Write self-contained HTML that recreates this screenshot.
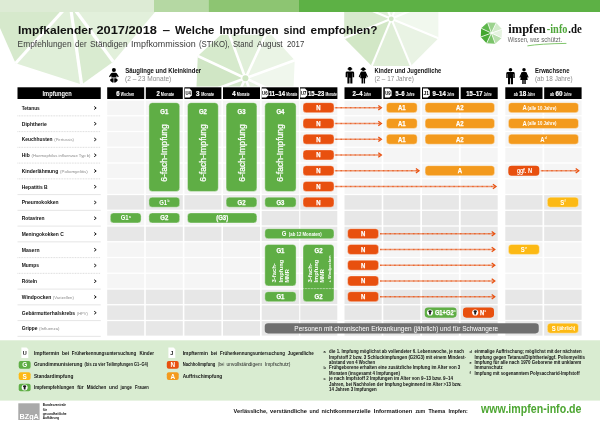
<!DOCTYPE html>
<html><head><meta charset="utf-8"><title>Impfkalender 2017/2018</title>
<style>html,body{margin:0;padding:0;background:#fff}body{width:600px;height:427px;overflow:hidden;font-family:"Liberation Sans",sans-serif}svg{display:block;will-change:transform;transform:translateZ(0)}</style>
</head><body>
<svg width="600" height="427" viewBox="0 0 600 427" font-family="Liberation Sans, sans-serif">
<rect x="0.00" y="0.00" width="600.00" height="427.00" rx="0.00" fill="#fff" />
<polygon points="0.0,0.0 70.0,3.0 15.6,63.3 0.0,28.0" fill="#d6e9cc"/>
<polygon points="70.0,3.0 15.6,63.3 81.6,84.5" fill="#e0efd9"/>
<polygon points="70.0,3.0 81.6,84.5 113.3,61.8" fill="#d9ebd0"/>
<polygon points="70.0,3.0 113.3,61.8 155.0,12.0 155.0,0.0" fill="#e2f0db"/>
<line x1="70.0" y1="3.0" x2="15.6" y2="63.3" stroke="#fff" stroke-width="3.2"/>
<line x1="70.0" y1="3.0" x2="81.6" y2="84.5" stroke="#fff" stroke-width="3.2"/>
<line x1="70.0" y1="3.0" x2="113.3" y2="61.8" stroke="#fff" stroke-width="3.2"/>
<clipPath id="cu2"><rect x="150" y="34.8" width="200" height="80"/></clipPath><g clip-path="url(#cu2)">
<polygon points="245.4,78.2 294.7,60.2 267.6,30.6" fill="#eaf4e5"/>
<polygon points="245.4,78.2 267.6,30.6 227.4,28.9" fill="#e0efd9"/>
<polygon points="245.4,78.2 227.4,28.9 197.8,56.0" fill="#d6eacc"/>
<polygon points="245.4,78.2 197.8,56.0 196.1,96.2" fill="#d0e6c5"/>
<polygon points="245.4,78.2 196.1,96.2 223.2,125.8" fill="#d4e8ca"/>
<polygon points="245.4,78.2 223.2,125.8 263.4,127.5" fill="#dcedd4"/>
<polygon points="245.4,78.2 263.4,127.5 293.0,100.4" fill="#e6f2e0"/>
<polygon points="245.4,78.2 293.0,100.4 294.7,60.2" fill="#f0f7ed"/>
<line x1="245.4" y1="78.2" x2="294.7" y2="60.2" stroke="#fff" stroke-width="2.6"/>
<line x1="245.4" y1="78.2" x2="267.6" y2="30.6" stroke="#fff" stroke-width="2.6"/>
<line x1="245.4" y1="78.2" x2="227.4" y2="28.9" stroke="#fff" stroke-width="2.6"/>
<line x1="245.4" y1="78.2" x2="197.8" y2="56.0" stroke="#fff" stroke-width="2.6"/>
<line x1="245.4" y1="78.2" x2="196.1" y2="96.2" stroke="#fff" stroke-width="2.6"/>
<line x1="245.4" y1="78.2" x2="223.2" y2="125.8" stroke="#fff" stroke-width="2.6"/>
<line x1="245.4" y1="78.2" x2="263.4" y2="127.5" stroke="#fff" stroke-width="2.6"/>
<line x1="245.4" y1="78.2" x2="293.0" y2="100.4" stroke="#fff" stroke-width="2.6"/>
<circle cx="245.4" cy="78.2" r="4.2" fill="#fff"/>
<circle cx="245.4" cy="78.2" r="3.0" fill="#cfe6c3"/>
</g>
<polygon points="391.3,18.8 438.4,38.3 438.4,-0.7" fill="#f1f8ee"/>
<polygon points="391.3,18.8 438.4,-0.7 410.8,-28.3" fill="#f4f9f1"/>
<polygon points="391.3,18.8 410.8,-28.3 371.8,-28.3" fill="#eaf4e5"/>
<polygon points="391.3,18.8 371.8,-28.3 344.2,-0.7" fill="#e0eed8"/>
<polygon points="391.3,18.8 344.2,-0.7 344.2,38.3" fill="#d8eace"/>
<polygon points="391.3,18.8 344.2,38.3 371.8,65.9" fill="#d2e7c6"/>
<polygon points="391.3,18.8 371.8,65.9 410.8,65.9" fill="#dfeed7"/>
<polygon points="391.3,18.8 410.8,65.9 438.4,38.3" fill="#e9f3e4"/>
<line x1="391.3" y1="18.8" x2="438.4" y2="38.3" stroke="#fff" stroke-width="2.1"/>
<line x1="391.3" y1="18.8" x2="438.4" y2="-0.7" stroke="#fff" stroke-width="2.1"/>
<line x1="391.3" y1="18.8" x2="410.8" y2="-28.3" stroke="#fff" stroke-width="2.1"/>
<line x1="391.3" y1="18.8" x2="371.8" y2="-28.3" stroke="#fff" stroke-width="2.1"/>
<line x1="391.3" y1="18.8" x2="344.2" y2="-0.7" stroke="#fff" stroke-width="2.1"/>
<line x1="391.3" y1="18.8" x2="344.2" y2="38.3" stroke="#fff" stroke-width="2.1"/>
<line x1="391.3" y1="18.8" x2="371.8" y2="65.9" stroke="#fff" stroke-width="2.1"/>
<line x1="391.3" y1="18.8" x2="410.8" y2="65.9" stroke="#fff" stroke-width="2.1"/>
<circle cx="391.3" cy="18.8" r="3.6" fill="#fff"/>
<circle cx="391.3" cy="18.8" r="2.4" fill="#cfe6c3"/>
<rect x="0.00" y="0.00" width="154.00" height="12.00" rx="0.00" fill="#ddebd5" />
<rect x="154.00" y="0.00" width="54.40" height="12.00" rx="0.00" fill="#b5d8a3" />
<rect x="208.40" y="0.00" width="90.60" height="12.00" rx="0.00" fill="#8dc572" />
<rect x="299.00" y="0.00" width="301.00" height="12.00" rx="0.00" fill="#5db145" />
<rect x="0.00" y="86.50" width="600.00" height="254.00" rx="0.00" fill="#fff" />
<text x="18.00" y="33.75" font-size="11.70" fill="#111" font-weight="bold" text-anchor="start" textLength="74.60" lengthAdjust="spacingAndGlyphs" >Impfkalender</text>
<text x="96.40" y="33.75" font-size="11.70" fill="#111" font-weight="bold" text-anchor="start" textLength="60.60" lengthAdjust="spacingAndGlyphs" >2017/2018</text>
<text x="162.40" y="33.75" font-size="11.70" fill="#111" font-weight="bold" text-anchor="start" textLength="7.60" lengthAdjust="spacingAndGlyphs" >–</text>
<text x="175.00" y="33.75" font-size="11.70" fill="#111" font-weight="bold" text-anchor="start" textLength="39.40" lengthAdjust="spacingAndGlyphs" >Welche</text>
<text x="219.40" y="33.75" font-size="11.70" fill="#111" font-weight="bold" text-anchor="start" textLength="59.20" lengthAdjust="spacingAndGlyphs" >Impfungen</text>
<text x="283.60" y="33.75" font-size="11.70" fill="#111" font-weight="bold" text-anchor="start" textLength="22.00" lengthAdjust="spacingAndGlyphs" >sind</text>
<text x="310.60" y="33.75" font-size="11.70" fill="#111" font-weight="bold" text-anchor="start" textLength="66.90" lengthAdjust="spacingAndGlyphs" >empfohlen?</text>
<text x="17.60" y="47.00" font-size="9.50" fill="#3a3a3a" font-weight="normal" text-anchor="start" textLength="54.00" lengthAdjust="spacingAndGlyphs" >Empfehlungen</text>
<text x="75.00" y="47.00" font-size="9.50" fill="#3a3a3a" font-weight="normal" text-anchor="start" textLength="11.60" lengthAdjust="spacingAndGlyphs" >der</text>
<text x="90.00" y="47.00" font-size="9.50" fill="#3a3a3a" font-weight="normal" text-anchor="start" textLength="37.60" lengthAdjust="spacingAndGlyphs" >Ständigen</text>
<text x="131.00" y="47.00" font-size="9.50" fill="#3a3a3a" font-weight="normal" text-anchor="start" textLength="64.60" lengthAdjust="spacingAndGlyphs" >Impfkommission</text>
<text x="199.00" y="47.00" font-size="9.50" fill="#3a3a3a" font-weight="normal" text-anchor="start" textLength="30.80" lengthAdjust="spacingAndGlyphs" >(STIKO),</text>
<text x="233.00" y="47.00" font-size="9.50" fill="#3a3a3a" font-weight="normal" text-anchor="start" textLength="20.00" lengthAdjust="spacingAndGlyphs" >Stand</text>
<text x="257.00" y="47.00" font-size="9.50" fill="#3a3a3a" font-weight="normal" text-anchor="start" textLength="25.60" lengthAdjust="spacingAndGlyphs" >August</text>
<text x="287.00" y="47.00" font-size="9.50" fill="#3a3a3a" font-weight="normal" text-anchor="start" textLength="17.20" lengthAdjust="spacingAndGlyphs" >2017</text>
<rect x="107.20" y="100.65" width="37.00" height="14.45" rx="0.00" fill="#f5f5f5" />
<rect x="145.80" y="100.65" width="37.00" height="14.45" rx="0.00" fill="#f5f5f5" />
<rect x="184.40" y="100.65" width="37.00" height="14.45" rx="0.00" fill="#f5f5f5" />
<rect x="223.00" y="100.65" width="37.00" height="14.45" rx="0.00" fill="#f5f5f5" />
<rect x="261.70" y="100.65" width="37.50" height="14.45" rx="0.00" fill="#f5f5f5" />
<rect x="300.30" y="100.65" width="37.00" height="14.45" rx="0.00" fill="#f5f5f5" />
<rect x="344.50" y="100.65" width="37.20" height="14.45" rx="0.00" fill="#f5f5f5" />
<rect x="383.30" y="100.65" width="37.00" height="14.45" rx="0.00" fill="#f5f5f5" />
<rect x="422.00" y="100.65" width="36.90" height="14.45" rx="0.00" fill="#f5f5f5" />
<rect x="460.70" y="100.65" width="37.00" height="14.45" rx="0.00" fill="#f5f5f5" />
<rect x="505.30" y="100.65" width="37.20" height="14.45" rx="0.00" fill="#f5f5f5" />
<rect x="544.20" y="100.65" width="37.40" height="14.45" rx="0.00" fill="#f5f5f5" />
<rect x="107.20" y="116.40" width="37.00" height="14.45" rx="0.00" fill="#f5f5f5" />
<rect x="145.80" y="116.40" width="37.00" height="14.45" rx="0.00" fill="#f5f5f5" />
<rect x="184.40" y="116.40" width="37.00" height="14.45" rx="0.00" fill="#f5f5f5" />
<rect x="223.00" y="116.40" width="37.00" height="14.45" rx="0.00" fill="#f5f5f5" />
<rect x="261.70" y="116.40" width="37.50" height="14.45" rx="0.00" fill="#f5f5f5" />
<rect x="300.30" y="116.40" width="37.00" height="14.45" rx="0.00" fill="#f5f5f5" />
<rect x="344.50" y="116.40" width="37.20" height="14.45" rx="0.00" fill="#f5f5f5" />
<rect x="383.30" y="116.40" width="37.00" height="14.45" rx="0.00" fill="#f5f5f5" />
<rect x="422.00" y="116.40" width="36.90" height="14.45" rx="0.00" fill="#f5f5f5" />
<rect x="460.70" y="116.40" width="37.00" height="14.45" rx="0.00" fill="#f5f5f5" />
<rect x="505.30" y="116.40" width="37.20" height="14.45" rx="0.00" fill="#f5f5f5" />
<rect x="544.20" y="116.40" width="37.40" height="14.45" rx="0.00" fill="#f5f5f5" />
<rect x="107.20" y="132.15" width="37.00" height="14.45" rx="0.00" fill="#f5f5f5" />
<rect x="145.80" y="132.15" width="37.00" height="14.45" rx="0.00" fill="#f5f5f5" />
<rect x="184.40" y="132.15" width="37.00" height="14.45" rx="0.00" fill="#f5f5f5" />
<rect x="223.00" y="132.15" width="37.00" height="14.45" rx="0.00" fill="#f5f5f5" />
<rect x="261.70" y="132.15" width="37.50" height="14.45" rx="0.00" fill="#f5f5f5" />
<rect x="300.30" y="132.15" width="37.00" height="14.45" rx="0.00" fill="#f5f5f5" />
<rect x="344.50" y="132.15" width="37.20" height="14.45" rx="0.00" fill="#f5f5f5" />
<rect x="383.30" y="132.15" width="37.00" height="14.45" rx="0.00" fill="#f5f5f5" />
<rect x="422.00" y="132.15" width="36.90" height="14.45" rx="0.00" fill="#f5f5f5" />
<rect x="460.70" y="132.15" width="37.00" height="14.45" rx="0.00" fill="#f5f5f5" />
<rect x="505.30" y="132.15" width="37.20" height="14.45" rx="0.00" fill="#f5f5f5" />
<rect x="544.20" y="132.15" width="37.40" height="14.45" rx="0.00" fill="#f5f5f5" />
<rect x="107.20" y="147.90" width="37.00" height="14.45" rx="0.00" fill="#f5f5f5" />
<rect x="145.80" y="147.90" width="37.00" height="14.45" rx="0.00" fill="#f5f5f5" />
<rect x="184.40" y="147.90" width="37.00" height="14.45" rx="0.00" fill="#f5f5f5" />
<rect x="223.00" y="147.90" width="37.00" height="14.45" rx="0.00" fill="#f5f5f5" />
<rect x="261.70" y="147.90" width="37.50" height="14.45" rx="0.00" fill="#f5f5f5" />
<rect x="300.30" y="147.90" width="37.00" height="14.45" rx="0.00" fill="#f5f5f5" />
<rect x="344.50" y="147.90" width="37.20" height="14.45" rx="0.00" fill="#f5f5f5" />
<rect x="383.30" y="147.90" width="37.00" height="14.45" rx="0.00" fill="#f5f5f5" />
<rect x="422.00" y="147.90" width="36.90" height="14.45" rx="0.00" fill="#f5f5f5" />
<rect x="460.70" y="147.90" width="37.00" height="14.45" rx="0.00" fill="#f5f5f5" />
<rect x="505.30" y="147.90" width="37.20" height="14.45" rx="0.00" fill="#f5f5f5" />
<rect x="544.20" y="147.90" width="37.40" height="14.45" rx="0.00" fill="#f5f5f5" />
<rect x="107.20" y="163.65" width="37.00" height="14.45" rx="0.00" fill="#f5f5f5" />
<rect x="145.80" y="163.65" width="37.00" height="14.45" rx="0.00" fill="#f5f5f5" />
<rect x="184.40" y="163.65" width="37.00" height="14.45" rx="0.00" fill="#f5f5f5" />
<rect x="223.00" y="163.65" width="37.00" height="14.45" rx="0.00" fill="#f5f5f5" />
<rect x="261.70" y="163.65" width="37.50" height="14.45" rx="0.00" fill="#f5f5f5" />
<rect x="300.30" y="163.65" width="37.00" height="14.45" rx="0.00" fill="#f5f5f5" />
<rect x="344.50" y="163.65" width="37.20" height="14.45" rx="0.00" fill="#f5f5f5" />
<rect x="383.30" y="163.65" width="37.00" height="14.45" rx="0.00" fill="#f5f5f5" />
<rect x="422.00" y="163.65" width="36.90" height="14.45" rx="0.00" fill="#f5f5f5" />
<rect x="460.70" y="163.65" width="37.00" height="14.45" rx="0.00" fill="#f5f5f5" />
<rect x="505.30" y="163.65" width="37.20" height="14.45" rx="0.00" fill="#f5f5f5" />
<rect x="544.20" y="163.65" width="37.40" height="14.45" rx="0.00" fill="#f5f5f5" />
<rect x="107.20" y="179.40" width="37.00" height="14.45" rx="0.00" fill="#f5f5f5" />
<rect x="145.80" y="179.40" width="37.00" height="14.45" rx="0.00" fill="#f5f5f5" />
<rect x="184.40" y="179.40" width="37.00" height="14.45" rx="0.00" fill="#f5f5f5" />
<rect x="223.00" y="179.40" width="37.00" height="14.45" rx="0.00" fill="#f5f5f5" />
<rect x="261.70" y="179.40" width="37.50" height="14.45" rx="0.00" fill="#f5f5f5" />
<rect x="300.30" y="179.40" width="37.00" height="14.45" rx="0.00" fill="#f5f5f5" />
<rect x="344.50" y="179.40" width="37.20" height="14.45" rx="0.00" fill="#f5f5f5" />
<rect x="383.30" y="179.40" width="37.00" height="14.45" rx="0.00" fill="#f5f5f5" />
<rect x="422.00" y="179.40" width="36.90" height="14.45" rx="0.00" fill="#f5f5f5" />
<rect x="460.70" y="179.40" width="37.00" height="14.45" rx="0.00" fill="#f5f5f5" />
<rect x="505.30" y="179.40" width="37.20" height="14.45" rx="0.00" fill="#f5f5f5" />
<rect x="544.20" y="179.40" width="37.40" height="14.45" rx="0.00" fill="#f5f5f5" />
<rect x="107.20" y="195.15" width="37.00" height="14.45" rx="0.00" fill="#e7e7e7" />
<rect x="145.80" y="195.15" width="37.00" height="14.45" rx="0.00" fill="#e7e7e7" />
<rect x="184.40" y="195.15" width="37.00" height="14.45" rx="0.00" fill="#e7e7e7" />
<rect x="223.00" y="195.15" width="37.00" height="14.45" rx="0.00" fill="#e7e7e7" />
<rect x="261.70" y="195.15" width="37.50" height="14.45" rx="0.00" fill="#e7e7e7" />
<rect x="300.30" y="195.15" width="37.00" height="14.45" rx="0.00" fill="#e7e7e7" />
<rect x="344.50" y="195.15" width="37.20" height="14.45" rx="0.00" fill="#e7e7e7" />
<rect x="383.30" y="195.15" width="37.00" height="14.45" rx="0.00" fill="#e7e7e7" />
<rect x="422.00" y="195.15" width="36.90" height="14.45" rx="0.00" fill="#e7e7e7" />
<rect x="460.70" y="195.15" width="37.00" height="14.45" rx="0.00" fill="#e7e7e7" />
<rect x="505.30" y="195.15" width="37.20" height="14.45" rx="0.00" fill="#e7e7e7" />
<rect x="544.20" y="195.15" width="37.40" height="14.45" rx="0.00" fill="#e7e7e7" />
<rect x="107.20" y="210.90" width="37.00" height="14.45" rx="0.00" fill="#f5f5f5" />
<rect x="145.80" y="210.90" width="37.00" height="14.45" rx="0.00" fill="#f5f5f5" />
<rect x="184.40" y="210.90" width="37.00" height="14.45" rx="0.00" fill="#f5f5f5" />
<rect x="223.00" y="210.90" width="37.00" height="14.45" rx="0.00" fill="#f5f5f5" />
<rect x="261.70" y="210.90" width="37.50" height="14.45" rx="0.00" fill="#e7e7e7" />
<rect x="300.30" y="210.90" width="37.00" height="14.45" rx="0.00" fill="#e7e7e7" />
<rect x="344.50" y="210.90" width="37.20" height="14.45" rx="0.00" fill="#e7e7e7" />
<rect x="383.30" y="210.90" width="37.00" height="14.45" rx="0.00" fill="#e7e7e7" />
<rect x="422.00" y="210.90" width="36.90" height="14.45" rx="0.00" fill="#e7e7e7" />
<rect x="460.70" y="210.90" width="37.00" height="14.45" rx="0.00" fill="#e7e7e7" />
<rect x="505.30" y="210.90" width="37.20" height="14.45" rx="0.00" fill="#e7e7e7" />
<rect x="544.20" y="210.90" width="37.40" height="14.45" rx="0.00" fill="#e7e7e7" />
<rect x="107.20" y="226.65" width="37.00" height="14.45" rx="0.00" fill="#e7e7e7" />
<rect x="145.80" y="226.65" width="37.00" height="14.45" rx="0.00" fill="#e7e7e7" />
<rect x="184.40" y="226.65" width="37.00" height="14.45" rx="0.00" fill="#e7e7e7" />
<rect x="223.00" y="226.65" width="37.00" height="14.45" rx="0.00" fill="#e7e7e7" />
<rect x="261.70" y="226.65" width="37.50" height="14.45" rx="0.00" fill="#e7e7e7" />
<rect x="300.30" y="226.65" width="37.00" height="14.45" rx="0.00" fill="#e7e7e7" />
<rect x="344.50" y="226.65" width="37.20" height="14.45" rx="0.00" fill="#e7e7e7" />
<rect x="383.30" y="226.65" width="37.00" height="14.45" rx="0.00" fill="#e7e7e7" />
<rect x="422.00" y="226.65" width="36.90" height="14.45" rx="0.00" fill="#e7e7e7" />
<rect x="460.70" y="226.65" width="37.00" height="14.45" rx="0.00" fill="#e7e7e7" />
<rect x="505.30" y="226.65" width="37.20" height="14.45" rx="0.00" fill="#e7e7e7" />
<rect x="544.20" y="226.65" width="37.40" height="14.45" rx="0.00" fill="#e7e7e7" />
<rect x="107.20" y="242.40" width="37.00" height="14.45" rx="0.00" fill="#f5f5f5" />
<rect x="145.80" y="242.40" width="37.00" height="14.45" rx="0.00" fill="#f5f5f5" />
<rect x="184.40" y="242.40" width="37.00" height="14.45" rx="0.00" fill="#f5f5f5" />
<rect x="223.00" y="242.40" width="37.00" height="14.45" rx="0.00" fill="#f5f5f5" />
<rect x="261.70" y="242.40" width="37.50" height="14.45" rx="0.00" fill="#f5f5f5" />
<rect x="300.30" y="242.40" width="37.00" height="14.45" rx="0.00" fill="#f5f5f5" />
<rect x="344.50" y="242.40" width="37.20" height="14.45" rx="0.00" fill="#f5f5f5" />
<rect x="383.30" y="242.40" width="37.00" height="14.45" rx="0.00" fill="#f5f5f5" />
<rect x="422.00" y="242.40" width="36.90" height="14.45" rx="0.00" fill="#f5f5f5" />
<rect x="460.70" y="242.40" width="37.00" height="14.45" rx="0.00" fill="#f5f5f5" />
<rect x="505.30" y="242.40" width="37.20" height="14.45" rx="0.00" fill="#f5f5f5" />
<rect x="544.20" y="242.40" width="37.40" height="14.45" rx="0.00" fill="#f5f5f5" />
<rect x="107.20" y="258.15" width="37.00" height="14.45" rx="0.00" fill="#f5f5f5" />
<rect x="145.80" y="258.15" width="37.00" height="14.45" rx="0.00" fill="#f5f5f5" />
<rect x="184.40" y="258.15" width="37.00" height="14.45" rx="0.00" fill="#f5f5f5" />
<rect x="223.00" y="258.15" width="37.00" height="14.45" rx="0.00" fill="#f5f5f5" />
<rect x="261.70" y="258.15" width="37.50" height="14.45" rx="0.00" fill="#f5f5f5" />
<rect x="300.30" y="258.15" width="37.00" height="14.45" rx="0.00" fill="#f5f5f5" />
<rect x="344.50" y="258.15" width="37.20" height="14.45" rx="0.00" fill="#f5f5f5" />
<rect x="383.30" y="258.15" width="37.00" height="14.45" rx="0.00" fill="#f5f5f5" />
<rect x="422.00" y="258.15" width="36.90" height="14.45" rx="0.00" fill="#f5f5f5" />
<rect x="460.70" y="258.15" width="37.00" height="14.45" rx="0.00" fill="#f5f5f5" />
<rect x="505.30" y="258.15" width="37.20" height="14.45" rx="0.00" fill="#f5f5f5" />
<rect x="544.20" y="258.15" width="37.40" height="14.45" rx="0.00" fill="#f5f5f5" />
<rect x="107.20" y="273.90" width="37.00" height="14.45" rx="0.00" fill="#f5f5f5" />
<rect x="145.80" y="273.90" width="37.00" height="14.45" rx="0.00" fill="#f5f5f5" />
<rect x="184.40" y="273.90" width="37.00" height="14.45" rx="0.00" fill="#f5f5f5" />
<rect x="223.00" y="273.90" width="37.00" height="14.45" rx="0.00" fill="#f5f5f5" />
<rect x="261.70" y="273.90" width="37.50" height="14.45" rx="0.00" fill="#f5f5f5" />
<rect x="300.30" y="273.90" width="37.00" height="14.45" rx="0.00" fill="#f5f5f5" />
<rect x="344.50" y="273.90" width="37.20" height="14.45" rx="0.00" fill="#f5f5f5" />
<rect x="383.30" y="273.90" width="37.00" height="14.45" rx="0.00" fill="#f5f5f5" />
<rect x="422.00" y="273.90" width="36.90" height="14.45" rx="0.00" fill="#f5f5f5" />
<rect x="460.70" y="273.90" width="37.00" height="14.45" rx="0.00" fill="#f5f5f5" />
<rect x="505.30" y="273.90" width="37.20" height="14.45" rx="0.00" fill="#f5f5f5" />
<rect x="544.20" y="273.90" width="37.40" height="14.45" rx="0.00" fill="#f5f5f5" />
<rect x="107.20" y="289.65" width="37.00" height="14.45" rx="0.00" fill="#e7e7e7" />
<rect x="145.80" y="289.65" width="37.00" height="14.45" rx="0.00" fill="#e7e7e7" />
<rect x="184.40" y="289.65" width="37.00" height="14.45" rx="0.00" fill="#e7e7e7" />
<rect x="223.00" y="289.65" width="37.00" height="14.45" rx="0.00" fill="#e7e7e7" />
<rect x="261.70" y="289.65" width="37.50" height="14.45" rx="0.00" fill="#e7e7e7" />
<rect x="300.30" y="289.65" width="37.00" height="14.45" rx="0.00" fill="#e7e7e7" />
<rect x="344.50" y="289.65" width="37.20" height="14.45" rx="0.00" fill="#e7e7e7" />
<rect x="383.30" y="289.65" width="37.00" height="14.45" rx="0.00" fill="#e7e7e7" />
<rect x="422.00" y="289.65" width="36.90" height="14.45" rx="0.00" fill="#e7e7e7" />
<rect x="460.70" y="289.65" width="37.00" height="14.45" rx="0.00" fill="#e7e7e7" />
<rect x="505.30" y="289.65" width="37.20" height="14.45" rx="0.00" fill="#e7e7e7" />
<rect x="544.20" y="289.65" width="37.40" height="14.45" rx="0.00" fill="#e7e7e7" />
<rect x="107.20" y="305.40" width="37.00" height="14.45" rx="0.00" fill="#e7e7e7" />
<rect x="145.80" y="305.40" width="37.00" height="14.45" rx="0.00" fill="#e7e7e7" />
<rect x="184.40" y="305.40" width="37.00" height="14.45" rx="0.00" fill="#e7e7e7" />
<rect x="223.00" y="305.40" width="37.00" height="14.45" rx="0.00" fill="#e7e7e7" />
<rect x="261.70" y="305.40" width="37.50" height="14.45" rx="0.00" fill="#e7e7e7" />
<rect x="300.30" y="305.40" width="37.00" height="14.45" rx="0.00" fill="#e7e7e7" />
<rect x="344.50" y="305.40" width="37.20" height="14.45" rx="0.00" fill="#e7e7e7" />
<rect x="383.30" y="305.40" width="37.00" height="14.45" rx="0.00" fill="#e7e7e7" />
<rect x="422.00" y="305.40" width="36.90" height="14.45" rx="0.00" fill="#e7e7e7" />
<rect x="460.70" y="305.40" width="37.00" height="14.45" rx="0.00" fill="#e7e7e7" />
<rect x="505.30" y="305.40" width="37.20" height="14.45" rx="0.00" fill="#e7e7e7" />
<rect x="544.20" y="305.40" width="37.40" height="14.45" rx="0.00" fill="#e7e7e7" />
<rect x="107.20" y="321.15" width="37.00" height="14.45" rx="0.00" fill="#e7e7e7" />
<rect x="145.80" y="321.15" width="37.00" height="14.45" rx="0.00" fill="#e7e7e7" />
<rect x="184.40" y="321.15" width="37.00" height="14.45" rx="0.00" fill="#e7e7e7" />
<rect x="223.00" y="321.15" width="37.00" height="14.45" rx="0.00" fill="#e7e7e7" />
<rect x="261.70" y="321.15" width="37.50" height="14.45" rx="0.00" fill="#e7e7e7" />
<rect x="300.30" y="321.15" width="37.00" height="14.45" rx="0.00" fill="#e7e7e7" />
<rect x="344.50" y="321.15" width="37.20" height="14.45" rx="0.00" fill="#e7e7e7" />
<rect x="383.30" y="321.15" width="37.00" height="14.45" rx="0.00" fill="#e7e7e7" />
<rect x="422.00" y="321.15" width="36.90" height="14.45" rx="0.00" fill="#e7e7e7" />
<rect x="460.70" y="321.15" width="37.00" height="14.45" rx="0.00" fill="#e7e7e7" />
<rect x="505.30" y="321.15" width="37.20" height="14.45" rx="0.00" fill="#e7e7e7" />
<rect x="544.20" y="321.15" width="37.40" height="14.45" rx="0.00" fill="#e7e7e7" />
<rect x="17.50" y="87.30" width="83.25" height="11.70" rx="0.00" fill="#000" />
<rect x="107.20" y="87.30" width="37.00" height="11.70" rx="0.00" fill="#000" />
<rect x="145.80" y="87.30" width="37.00" height="11.70" rx="0.00" fill="#000" />
<rect x="184.40" y="87.30" width="37.00" height="11.70" rx="0.00" fill="#000" />
<rect x="223.00" y="87.30" width="37.00" height="11.70" rx="0.00" fill="#000" />
<rect x="261.70" y="87.30" width="37.00" height="11.70" rx="0.00" fill="#000" />
<rect x="300.00" y="87.30" width="37.40" height="11.70" rx="0.00" fill="#000" />
<rect x="344.50" y="87.30" width="37.20" height="11.70" rx="0.00" fill="#000" />
<rect x="383.30" y="87.30" width="37.00" height="11.70" rx="0.00" fill="#000" />
<rect x="422.00" y="87.30" width="36.90" height="11.70" rx="0.00" fill="#000" />
<rect x="460.70" y="87.30" width="37.00" height="11.70" rx="0.00" fill="#000" />
<rect x="505.30" y="87.30" width="37.20" height="11.70" rx="0.00" fill="#000" />
<rect x="544.20" y="87.30" width="37.40" height="11.70" rx="0.00" fill="#000" />
<text x="42.50" y="95.60" font-size="6.50" fill="#fff" font-weight="bold" text-anchor="start" textLength="29.20" lengthAdjust="spacingAndGlyphs" >Impfungen</text>
<text x="116.20" y="95.60" font-size="6.40" fill="#fff" font-weight="bold" text-anchor="start" textLength="3.40" lengthAdjust="spacingAndGlyphs" stroke="#fff" stroke-width="0.2">6</text>
<text x="120.80" y="95.50" font-size="4.50" fill="#fff" font-weight="bold" text-anchor="start" textLength="13.40" lengthAdjust="spacingAndGlyphs" >Wochen</text>
<text x="156.50" y="95.60" font-size="6.40" fill="#fff" font-weight="bold" text-anchor="start" textLength="3.30" lengthAdjust="spacingAndGlyphs" stroke="#fff" stroke-width="0.2">2</text>
<text x="160.80" y="95.50" font-size="4.50" fill="#fff" font-weight="bold" text-anchor="start" textLength="13.40" lengthAdjust="spacingAndGlyphs" >Monate</text>
<text x="196.00" y="95.60" font-size="6.40" fill="#fff" font-weight="bold" text-anchor="start" textLength="3.50" lengthAdjust="spacingAndGlyphs" stroke="#fff" stroke-width="0.2">3</text>
<text x="201.20" y="95.50" font-size="4.50" fill="#fff" font-weight="bold" text-anchor="start" textLength="13.00" lengthAdjust="spacingAndGlyphs" >Monate</text>
<text x="232.30" y="95.60" font-size="6.40" fill="#fff" font-weight="bold" text-anchor="start" textLength="3.40" lengthAdjust="spacingAndGlyphs" stroke="#fff" stroke-width="0.2">4</text>
<text x="236.70" y="95.50" font-size="4.50" fill="#fff" font-weight="bold" text-anchor="start" textLength="13.00" lengthAdjust="spacingAndGlyphs" >Monate</text>
<text x="268.90" y="95.60" font-size="6.40" fill="#fff" font-weight="bold" text-anchor="start" textLength="16.10" lengthAdjust="spacingAndGlyphs" stroke="#fff" stroke-width="0.2">11–14</text>
<text x="286.20" y="95.50" font-size="4.50" fill="#fff" font-weight="bold" text-anchor="start" textLength="11.20" lengthAdjust="spacingAndGlyphs" >Monate</text>
<text x="308.00" y="95.60" font-size="6.40" fill="#fff" font-weight="bold" text-anchor="start" textLength="16.20" lengthAdjust="spacingAndGlyphs" stroke="#fff" stroke-width="0.2">15–23</text>
<text x="325.40" y="95.50" font-size="4.50" fill="#fff" font-weight="bold" text-anchor="start" textLength="11.40" lengthAdjust="spacingAndGlyphs" >Monate</text>
<text x="352.50" y="95.60" font-size="6.40" fill="#fff" font-weight="bold" text-anchor="start" textLength="10.00" lengthAdjust="spacingAndGlyphs" stroke="#fff" stroke-width="0.2">2–4</text>
<text x="363.75" y="95.50" font-size="4.50" fill="#fff" font-weight="bold" text-anchor="start" textLength="7.25" lengthAdjust="spacingAndGlyphs" >Jahre</text>
<text x="395.50" y="95.60" font-size="6.40" fill="#fff" font-weight="bold" text-anchor="start" textLength="9.10" lengthAdjust="spacingAndGlyphs" stroke="#fff" stroke-width="0.2">5–6</text>
<text x="406.20" y="95.50" font-size="4.50" fill="#fff" font-weight="bold" text-anchor="start" textLength="8.40" lengthAdjust="spacingAndGlyphs" >Jahre</text>
<text x="432.50" y="95.60" font-size="6.40" fill="#fff" font-weight="bold" text-anchor="start" textLength="13.25" lengthAdjust="spacingAndGlyphs" stroke="#fff" stroke-width="0.2">9–14</text>
<text x="447.00" y="95.50" font-size="4.50" fill="#fff" font-weight="bold" text-anchor="start" textLength="7.20" lengthAdjust="spacingAndGlyphs" >Jahre</text>
<text x="466.25" y="95.60" font-size="6.40" fill="#fff" font-weight="bold" text-anchor="start" textLength="16.25" lengthAdjust="spacingAndGlyphs" stroke="#fff" stroke-width="0.2">15–17</text>
<text x="483.75" y="95.50" font-size="4.50" fill="#fff" font-weight="bold" text-anchor="start" textLength="7.75" lengthAdjust="spacingAndGlyphs" >Jahre</text>
<text x="513.75" y="95.50" font-size="4.50" fill="#fff" font-weight="bold" text-anchor="start" textLength="4.25" lengthAdjust="spacingAndGlyphs" >ab</text>
<text x="519.25" y="95.60" font-size="6.40" fill="#fff" font-weight="bold" text-anchor="start" textLength="7.00" lengthAdjust="spacingAndGlyphs" stroke="#fff" stroke-width="0.2">18</text>
<text x="527.50" y="95.50" font-size="4.50" fill="#fff" font-weight="bold" text-anchor="start" textLength="7.50" lengthAdjust="spacingAndGlyphs" >Jahre</text>
<text x="550.00" y="95.50" font-size="4.50" fill="#fff" font-weight="bold" text-anchor="start" textLength="4.25" lengthAdjust="spacingAndGlyphs" >ab</text>
<text x="555.50" y="95.60" font-size="6.40" fill="#fff" font-weight="bold" text-anchor="start" textLength="7.00" lengthAdjust="spacingAndGlyphs" stroke="#fff" stroke-width="0.2">60</text>
<text x="563.75" y="95.50" font-size="4.50" fill="#fff" font-weight="bold" text-anchor="start" textLength="7.75" lengthAdjust="spacingAndGlyphs" >Jahre</text>
<path d="M185.00 88.50 h4.6 l2.2 2.2 v4.6 l-2.2 2.2 h-4.6 z" fill="#fff"/>
<text x="188.20" y="94.70" font-size="4.80" fill="#000" font-weight="bold" text-anchor="middle" textLength="5.4" lengthAdjust="spacingAndGlyphs">U4</text>
<path d="M261.60 88.50 h4.6 l2.2 2.2 v4.6 l-2.2 2.2 h-4.6 z" fill="#fff"/>
<text x="264.80" y="94.70" font-size="4.80" fill="#000" font-weight="bold" text-anchor="middle" textLength="5.4" lengthAdjust="spacingAndGlyphs">U6</text>
<path d="M300.40 88.50 h4.6 l2.2 2.2 v4.6 l-2.2 2.2 h-4.6 z" fill="#fff"/>
<text x="303.60" y="94.70" font-size="4.80" fill="#000" font-weight="bold" text-anchor="middle" textLength="5.4" lengthAdjust="spacingAndGlyphs">U7</text>
<path d="M384.80 88.50 h4.6 l2.2 2.2 v4.6 l-2.2 2.2 h-4.6 z" fill="#fff"/>
<text x="388.00" y="94.70" font-size="4.80" fill="#000" font-weight="bold" text-anchor="middle" textLength="5.4" lengthAdjust="spacingAndGlyphs">U9</text>
<path d="M423.00 88.50 h4.6 l2.2 2.2 v4.6 l-2.2 2.2 h-4.6 z" fill="#fff"/>
<text x="426.20" y="94.70" font-size="4.80" fill="#000" font-weight="bold" text-anchor="middle" textLength="5.4" lengthAdjust="spacingAndGlyphs">J1</text>
<text x="125.20" y="73.30" font-size="6.30" fill="#111" font-weight="bold" text-anchor="start" textLength="75.90" lengthAdjust="spacingAndGlyphs" >Säuglinge und Kleinkinder</text>
<text x="125.00" y="81.10" font-size="6.30" fill="#8a8a8a" font-weight="normal" text-anchor="start" textLength="46.30" lengthAdjust="spacingAndGlyphs" >(2 – 23 Monate)</text>
<text x="374.50" y="73.20" font-size="6.30" fill="#111" font-weight="bold" text-anchor="start" textLength="66.80" lengthAdjust="spacingAndGlyphs" >Kinder und Jugendliche</text>
<text x="374.50" y="81.10" font-size="6.30" fill="#8a8a8a" font-weight="normal" text-anchor="start" textLength="39.30" lengthAdjust="spacingAndGlyphs" >(2 – 17 Jahre)</text>
<text x="535.00" y="73.20" font-size="6.30" fill="#111" font-weight="bold" text-anchor="start" textLength="34.50" lengthAdjust="spacingAndGlyphs" >Erwachsene</text>
<text x="535.00" y="81.10" font-size="6.30" fill="#8a8a8a" font-weight="normal" text-anchor="start" textLength="37.50" lengthAdjust="spacingAndGlyphs" >(ab 18 Jahre)</text>
<g fill="#000">
<circle cx="113.90" cy="70.10" r="2.0"/>
<path d="M109.00 76.60 L110.90 73.40 Q111.30 72.70 112.30 72.70 L115.50 72.70 Q116.50 72.70 116.90 73.40 L118.80 76.60 L117.90 77.30 L116.50 75.60 L116.50 77.40 L111.30 77.40 L111.30 75.60 L109.90 77.30 L109.00 76.60 z"/>
<path d="M113.60 78.20 h-1.6 q-1.9 0.3 -1.9 1.9 q0 0.9 0.9 1.5 l1.5 1 q1.1 0.4 1.1 -0.8 z"/>
<path d="M114.20 78.20 h1.6 q1.9 0.3 1.9 1.9 q0 0.9 -0.9 1.5 l-1.5 1 q-1.1 0.4 -1.1 -0.8 z"/>
</g>
<g fill="#000">
<circle cx="349.90" cy="69.10" r="1.75"/>
<ellipse cx="349.90" cy="68.90" rx="2.7" ry="0.7"/>
<path d="M348.10 68.70 a1.8 1.6 0 0 1 3.6 0 z"/>
<path d="M347.10 71.40 h5.6 q1.45 0 1.45 1.45 v4.5 h-1.45 v-4 h-0.3 v10.1 h-2.1 v-5.8 h-0.8 v5.8 h-2.1 v-10.1 h-0.3 v4 h-1.45 v-4.5 q0 -1.45 1.45 -1.45 z"/>
</g>
<g fill="#000">
<circle cx="363.30" cy="69.30" r="1.75"/>
<ellipse cx="363.30" cy="69.30" rx="3" ry="0.7"/>
<path d="M361.50 69.10 a1.8 1.7 0 0 1 3.6 0 z"/>
<path d="M361.80 71.60 h3 q0.7 0 0.9 0.7 L366.40 78.20 H360.20 L360.90 72.30 q0.2 -0.7 0.9 -0.7 z"/>
<path d="M361.30 72.30 L359.40 76.60 M365.30 72.30 L367.20 76.60" stroke="#000" stroke-width="1.15" stroke-linecap="round" fill="none"/>
<rect x="361.55" y="78.00" width="1.45" height="5.50"/>
<rect x="363.60" y="78.00" width="1.45" height="5.50"/>
</g>
<g fill="#000">
<circle cx="510.50" cy="69.80" r="1.75"/>
<path d="M507.70 72.10 h5.6 q1.45 0 1.45 1.45 v4.5 h-1.45 v-4 h-0.3 v10.1 h-2.1 v-5.8 h-0.8 v5.8 h-2.1 v-10.1 h-0.3 v4 h-1.45 v-4.5 q0 -1.45 1.45 -1.45 z"/>
</g>
<g fill="#000">
<circle cx="524.00" cy="69.80" r="1.75"/>
<path d="M522.50 72.10 h3 q0.7 0 0.9 0.7 L527.70 79.90 H520.30 L521.60 72.80 q0.2 -0.7 0.9 -0.7 z"/>
<path d="M522.00 72.80 L520.10 77.10 M526.00 72.80 L527.90 77.10" stroke="#000" stroke-width="1.15" stroke-linecap="round" fill="none"/>
<rect x="522.25" y="79.70" width="1.45" height="4.30"/>
<rect x="524.30" y="79.70" width="1.45" height="4.30"/>
</g>
<text x="21.75" y="109.97" font-size="6.10" fill="#111" font-weight="bold" text-anchor="start" textLength="18.00" lengthAdjust="spacingAndGlyphs" >Tetanus</text>
<path d="M94.20 106.47 l2 1.5 l-2 1.5" fill="none" stroke="#1a1a1a" stroke-width="1.0"/>
<text x="21.75" y="125.72" font-size="6.10" fill="#111" font-weight="bold" text-anchor="start" textLength="25.05" lengthAdjust="spacingAndGlyphs" >Diphtherie</text>
<path d="M94.20 122.22 l2 1.5 l-2 1.5" fill="none" stroke="#1a1a1a" stroke-width="1.0"/>
<text x="21.75" y="141.47" font-size="6.10" fill="#111" font-weight="bold" text-anchor="start" textLength="30.75" lengthAdjust="spacingAndGlyphs" >Keuchhusten</text>
<text x="54.30" y="141.38" font-size="4.30" fill="#8a8a8a" font-weight="normal" text-anchor="start" textLength="19.50" lengthAdjust="spacingAndGlyphs" >(Pertussis)</text>
<path d="M94.20 137.97 l2 1.5 l-2 1.5" fill="none" stroke="#1a1a1a" stroke-width="1.0"/>
<text x="21.75" y="157.22" font-size="6.10" fill="#111" font-weight="bold" text-anchor="start" textLength="7.95" lengthAdjust="spacingAndGlyphs" >Hib</text>
<text x="31.50" y="157.12" font-size="4.30" fill="#8a8a8a" font-weight="normal" text-anchor="start" textLength="59.00" lengthAdjust="spacingAndGlyphs" >(Haemophilus influenzae Typ b)</text>
<path d="M94.20 153.72 l2 1.5 l-2 1.5" fill="none" stroke="#1a1a1a" stroke-width="1.0"/>
<text x="21.75" y="172.97" font-size="6.10" fill="#111" font-weight="bold" text-anchor="start" textLength="36.45" lengthAdjust="spacingAndGlyphs" >Kinderlähmung</text>
<text x="60.00" y="172.88" font-size="4.30" fill="#8a8a8a" font-weight="normal" text-anchor="start" textLength="27.75" lengthAdjust="spacingAndGlyphs" >(Poliomyelitis)</text>
<path d="M94.20 169.47 l2 1.5 l-2 1.5" fill="none" stroke="#1a1a1a" stroke-width="1.0"/>
<text x="21.75" y="188.72" font-size="6.10" fill="#111" font-weight="bold" text-anchor="start" textLength="25.95" lengthAdjust="spacingAndGlyphs" >Hepatitis B</text>
<path d="M94.20 185.22 l2 1.5 l-2 1.5" fill="none" stroke="#1a1a1a" stroke-width="1.0"/>
<text x="21.75" y="204.47" font-size="6.10" fill="#111" font-weight="bold" text-anchor="start" textLength="36.75" lengthAdjust="spacingAndGlyphs" >Pneumokokken</text>
<path d="M94.20 200.97 l2 1.5 l-2 1.5" fill="none" stroke="#1a1a1a" stroke-width="1.0"/>
<text x="21.75" y="220.22" font-size="6.10" fill="#111" font-weight="bold" text-anchor="start" textLength="22.75" lengthAdjust="spacingAndGlyphs" >Rotaviren</text>
<path d="M94.20 216.72 l2 1.5 l-2 1.5" fill="none" stroke="#1a1a1a" stroke-width="1.0"/>
<text x="21.75" y="235.97" font-size="6.10" fill="#111" font-weight="bold" text-anchor="start" textLength="42.00" lengthAdjust="spacingAndGlyphs" >Meningokokken C</text>
<path d="M94.20 232.47 l2 1.5 l-2 1.5" fill="none" stroke="#1a1a1a" stroke-width="1.0"/>
<text x="21.75" y="251.72" font-size="6.10" fill="#111" font-weight="bold" text-anchor="start" textLength="17.75" lengthAdjust="spacingAndGlyphs" >Masern</text>
<path d="M94.20 248.22 l2 1.5 l-2 1.5" fill="none" stroke="#1a1a1a" stroke-width="1.0"/>
<text x="21.75" y="267.48" font-size="6.10" fill="#111" font-weight="bold" text-anchor="start" textLength="17.25" lengthAdjust="spacingAndGlyphs" >Mumps</text>
<path d="M94.20 263.98 l2 1.5 l-2 1.5" fill="none" stroke="#1a1a1a" stroke-width="1.0"/>
<text x="21.75" y="283.23" font-size="6.10" fill="#111" font-weight="bold" text-anchor="start" textLength="15.25" lengthAdjust="spacingAndGlyphs" >Röteln</text>
<path d="M94.20 279.73 l2 1.5 l-2 1.5" fill="none" stroke="#1a1a1a" stroke-width="1.0"/>
<text x="21.75" y="298.98" font-size="6.10" fill="#111" font-weight="bold" text-anchor="start" textLength="29.55" lengthAdjust="spacingAndGlyphs" >Windpocken</text>
<text x="52.80" y="298.88" font-size="4.30" fill="#8a8a8a" font-weight="normal" text-anchor="start" textLength="21.00" lengthAdjust="spacingAndGlyphs" >(Varizellen)</text>
<path d="M94.20 295.48 l2 1.5 l-2 1.5" fill="none" stroke="#1a1a1a" stroke-width="1.0"/>
<text x="21.75" y="314.73" font-size="6.10" fill="#111" font-weight="bold" text-anchor="start" textLength="53.25" lengthAdjust="spacingAndGlyphs" >Gebärmutterhalskrebs</text>
<text x="76.80" y="314.62" font-size="4.30" fill="#8a8a8a" font-weight="normal" text-anchor="start" textLength="10.95" lengthAdjust="spacingAndGlyphs" >(HPV)</text>
<path d="M94.20 311.23 l2 1.5 l-2 1.5" fill="none" stroke="#1a1a1a" stroke-width="1.0"/>
<text x="21.75" y="330.48" font-size="6.10" fill="#111" font-weight="bold" text-anchor="start" textLength="15.75" lengthAdjust="spacingAndGlyphs" >Grippe</text>
<text x="39.00" y="330.38" font-size="4.30" fill="#8a8a8a" font-weight="normal" text-anchor="start" textLength="20.50" lengthAdjust="spacingAndGlyphs" >(Influenza)</text>
<line x1="17.5" y1="115.85" x2="100.75" y2="115.85" stroke="#c4c4c4" stroke-width="0.7" stroke-dasharray="0.8 0.8"/>
<line x1="17.5" y1="131.60" x2="100.75" y2="131.60" stroke="#c4c4c4" stroke-width="0.7" stroke-dasharray="0.8 0.8"/>
<line x1="17.5" y1="147.35" x2="100.75" y2="147.35" stroke="#c4c4c4" stroke-width="0.7" stroke-dasharray="0.8 0.8"/>
<line x1="17.5" y1="163.10" x2="100.75" y2="163.10" stroke="#c4c4c4" stroke-width="0.7" stroke-dasharray="0.8 0.8"/>
<line x1="17.5" y1="178.85" x2="100.75" y2="178.85" stroke="#c4c4c4" stroke-width="0.7" stroke-dasharray="0.8 0.8"/>
<line x1="17.5" y1="194.60" x2="100.75" y2="194.60" stroke="#d4d4d4" stroke-width="0.6"/>
<line x1="17.5" y1="210.35" x2="100.75" y2="210.35" stroke="#d4d4d4" stroke-width="0.6"/>
<line x1="17.5" y1="226.10" x2="100.75" y2="226.10" stroke="#d4d4d4" stroke-width="0.6"/>
<line x1="17.5" y1="241.85" x2="100.75" y2="241.85" stroke="#d4d4d4" stroke-width="0.6"/>
<line x1="17.5" y1="257.60" x2="100.75" y2="257.60" stroke="#c4c4c4" stroke-width="0.7" stroke-dasharray="0.8 0.8"/>
<line x1="17.5" y1="273.35" x2="100.75" y2="273.35" stroke="#c4c4c4" stroke-width="0.7" stroke-dasharray="0.8 0.8"/>
<line x1="17.5" y1="289.10" x2="100.75" y2="289.10" stroke="#d4d4d4" stroke-width="0.6"/>
<line x1="17.5" y1="304.85" x2="100.75" y2="304.85" stroke="#d4d4d4" stroke-width="0.6"/>
<line x1="17.5" y1="320.60" x2="100.75" y2="320.60" stroke="#d4d4d4" stroke-width="0.6"/>
<line x1="17.5" y1="336.35" x2="100.75" y2="336.35" stroke="#d4d4d4" stroke-width="0.6"/>
<rect x="148.90" y="102.65" width="30.80" height="88.80" rx="3.50" fill="#5fae45" stroke="#fff" stroke-opacity="0.55" stroke-width="0.7"/>
<text x="160.31" y="114.10" font-size="6.50" fill="#fff" font-weight="bold" text-anchor="start" textLength="7.98" lengthAdjust="spacingAndGlyphs" stroke="#fff" stroke-width="0.25">G1</text>
<text transform="translate(167.30 181.8) rotate(-90)" font-size="9.2" fill="#fff" font-weight="normal" stroke="#fff" stroke-width="0.25" textLength="57.6" lengthAdjust="spacingAndGlyphs">6-fach-Impfung</text>
<rect x="187.50" y="102.65" width="30.80" height="88.80" rx="3.50" fill="#5fae45" stroke="#fff" stroke-opacity="0.55" stroke-width="0.7"/>
<text x="198.91" y="114.10" font-size="6.50" fill="#fff" font-weight="bold" text-anchor="start" textLength="7.98" lengthAdjust="spacingAndGlyphs" stroke="#fff" stroke-width="0.25">G2</text>
<text transform="translate(205.90 181.8) rotate(-90)" font-size="9.2" fill="#fff" font-weight="normal" stroke="#fff" stroke-width="0.25" textLength="57.6" lengthAdjust="spacingAndGlyphs">6-fach-Impfung</text>
<rect x="226.10" y="102.65" width="30.80" height="88.80" rx="3.50" fill="#5fae45" stroke="#fff" stroke-opacity="0.55" stroke-width="0.7"/>
<text x="237.51" y="114.10" font-size="6.50" fill="#fff" font-weight="bold" text-anchor="start" textLength="7.98" lengthAdjust="spacingAndGlyphs" stroke="#fff" stroke-width="0.25">G3</text>
<text transform="translate(244.50 181.8) rotate(-90)" font-size="9.2" fill="#fff" font-weight="normal" stroke="#fff" stroke-width="0.25" textLength="57.6" lengthAdjust="spacingAndGlyphs">6-fach-Impfung</text>
<rect x="264.80" y="102.65" width="31.30" height="88.80" rx="3.50" fill="#5fae45" stroke="#fff" stroke-opacity="0.55" stroke-width="0.7"/>
<text x="276.46" y="114.10" font-size="6.50" fill="#fff" font-weight="bold" text-anchor="start" textLength="7.98" lengthAdjust="spacingAndGlyphs" stroke="#fff" stroke-width="0.25">G4</text>
<text transform="translate(283.45 181.8) rotate(-90)" font-size="9.2" fill="#fff" font-weight="normal" stroke="#fff" stroke-width="0.25" textLength="57.6" lengthAdjust="spacingAndGlyphs">6-fach-Impfung</text>
<rect x="303.00" y="102.65" width="31.00" height="10.05" rx="3.30" fill="#e8500f" stroke="#fff" stroke-opacity="0.55" stroke-width="0.7"/>
<text x="316.34" y="110.03" font-size="6.50" fill="#fff" font-weight="bold" text-anchor="start" textLength="4.32" lengthAdjust="spacingAndGlyphs" stroke="#fff" stroke-width="0.25">N</text>
<rect x="303.00" y="118.40" width="31.00" height="10.05" rx="3.30" fill="#e8500f" stroke="#fff" stroke-opacity="0.55" stroke-width="0.7"/>
<text x="316.34" y="125.78" font-size="6.50" fill="#fff" font-weight="bold" text-anchor="start" textLength="4.32" lengthAdjust="spacingAndGlyphs" stroke="#fff" stroke-width="0.25">N</text>
<rect x="303.00" y="134.15" width="31.00" height="10.05" rx="3.30" fill="#e8500f" stroke="#fff" stroke-opacity="0.55" stroke-width="0.7"/>
<text x="316.34" y="141.53" font-size="6.50" fill="#fff" font-weight="bold" text-anchor="start" textLength="4.32" lengthAdjust="spacingAndGlyphs" stroke="#fff" stroke-width="0.25">N</text>
<rect x="303.00" y="149.90" width="31.00" height="10.05" rx="3.30" fill="#e8500f" stroke="#fff" stroke-opacity="0.55" stroke-width="0.7"/>
<text x="316.34" y="157.28" font-size="6.50" fill="#fff" font-weight="bold" text-anchor="start" textLength="4.32" lengthAdjust="spacingAndGlyphs" stroke="#fff" stroke-width="0.25">N</text>
<rect x="303.00" y="165.65" width="31.00" height="10.05" rx="3.30" fill="#e8500f" stroke="#fff" stroke-opacity="0.55" stroke-width="0.7"/>
<text x="316.34" y="173.03" font-size="6.50" fill="#fff" font-weight="bold" text-anchor="start" textLength="4.32" lengthAdjust="spacingAndGlyphs" stroke="#fff" stroke-width="0.25">N</text>
<rect x="303.00" y="181.40" width="31.00" height="10.05" rx="3.30" fill="#e8500f" stroke="#fff" stroke-opacity="0.55" stroke-width="0.7"/>
<text x="316.34" y="188.78" font-size="6.50" fill="#fff" font-weight="bold" text-anchor="start" textLength="4.32" lengthAdjust="spacingAndGlyphs" stroke="#fff" stroke-width="0.25">N</text>
<rect x="303.00" y="197.15" width="31.00" height="10.05" rx="3.30" fill="#e8500f" stroke="#fff" stroke-opacity="0.55" stroke-width="0.7"/>
<text x="316.34" y="204.53" font-size="6.50" fill="#fff" font-weight="bold" text-anchor="start" textLength="4.32" lengthAdjust="spacingAndGlyphs" stroke="#fff" stroke-width="0.25">N</text>
<line x1="334.80" y1="107.78" x2="380.40" y2="107.78" stroke="#e8500f" stroke-width="1.5" stroke-dasharray="0.85 0.42"/>
<path d="M378.30 105.58 l3.1 2.2 l-3.1 2.2" fill="none" stroke="#e8500f" stroke-width="1.25"/>
<line x1="334.80" y1="123.53" x2="380.40" y2="123.53" stroke="#e8500f" stroke-width="1.5" stroke-dasharray="0.85 0.42"/>
<path d="M378.30 121.33 l3.1 2.2 l-3.1 2.2" fill="none" stroke="#e8500f" stroke-width="1.25"/>
<line x1="334.80" y1="139.28" x2="380.40" y2="139.28" stroke="#e8500f" stroke-width="1.5" stroke-dasharray="0.85 0.42"/>
<path d="M378.30 137.08 l3.1 2.2 l-3.1 2.2" fill="none" stroke="#e8500f" stroke-width="1.25"/>
<line x1="334.80" y1="155.03" x2="380.40" y2="155.03" stroke="#e8500f" stroke-width="1.5" stroke-dasharray="0.85 0.42"/>
<path d="M378.30 152.83 l3.1 2.2 l-3.1 2.2" fill="none" stroke="#e8500f" stroke-width="1.25"/>
<line x1="334.80" y1="170.78" x2="418.00" y2="170.78" stroke="#e8500f" stroke-width="1.5" stroke-dasharray="0.85 0.42"/>
<path d="M415.90 168.58 l3.1 2.2 l-3.1 2.2" fill="none" stroke="#e8500f" stroke-width="1.25"/>
<line x1="334.80" y1="186.53" x2="495.00" y2="186.53" stroke="#e8500f" stroke-width="1.5" stroke-dasharray="0.85 0.42"/>
<path d="M492.90 184.33 l3.1 2.2 l-3.1 2.2" fill="none" stroke="#e8500f" stroke-width="1.25"/>
<rect x="386.40" y="102.65" width="30.80" height="10.05" rx="3.30" fill="#f39a1d" stroke="#fff" stroke-opacity="0.55" stroke-width="0.7"/>
<text x="397.98" y="110.03" font-size="6.50" fill="#fff" font-weight="bold" text-anchor="start" textLength="7.64" lengthAdjust="spacingAndGlyphs" stroke="#fff" stroke-width="0.25">A1</text>
<rect x="425.10" y="102.65" width="69.50" height="10.05" rx="3.30" fill="#f39a1d" stroke="#fff" stroke-opacity="0.55" stroke-width="0.7"/>
<text x="456.03" y="110.03" font-size="6.50" fill="#fff" font-weight="bold" text-anchor="start" textLength="7.64" lengthAdjust="spacingAndGlyphs" stroke="#fff" stroke-width="0.25">A2</text>
<rect x="386.40" y="118.40" width="30.80" height="10.05" rx="3.30" fill="#f39a1d" stroke="#fff" stroke-opacity="0.55" stroke-width="0.7"/>
<text x="397.98" y="125.78" font-size="6.50" fill="#fff" font-weight="bold" text-anchor="start" textLength="7.64" lengthAdjust="spacingAndGlyphs" stroke="#fff" stroke-width="0.25">A1</text>
<rect x="425.10" y="118.40" width="69.50" height="10.05" rx="3.30" fill="#f39a1d" stroke="#fff" stroke-opacity="0.55" stroke-width="0.7"/>
<text x="456.03" y="125.78" font-size="6.50" fill="#fff" font-weight="bold" text-anchor="start" textLength="7.64" lengthAdjust="spacingAndGlyphs" stroke="#fff" stroke-width="0.25">A2</text>
<rect x="386.40" y="134.15" width="30.80" height="10.05" rx="3.30" fill="#f39a1d" stroke="#fff" stroke-opacity="0.55" stroke-width="0.7"/>
<text x="397.98" y="141.53" font-size="6.50" fill="#fff" font-weight="bold" text-anchor="start" textLength="7.64" lengthAdjust="spacingAndGlyphs" stroke="#fff" stroke-width="0.25">A1</text>
<rect x="425.10" y="134.15" width="69.50" height="10.05" rx="3.30" fill="#f39a1d" stroke="#fff" stroke-opacity="0.55" stroke-width="0.7"/>
<text x="456.03" y="141.53" font-size="6.50" fill="#fff" font-weight="bold" text-anchor="start" textLength="7.64" lengthAdjust="spacingAndGlyphs" stroke="#fff" stroke-width="0.25">A2</text>
<rect x="425.10" y="165.65" width="69.50" height="10.05" rx="3.30" fill="#f39a1d" stroke="#fff" stroke-opacity="0.55" stroke-width="0.7"/>
<text x="457.69" y="173.03" font-size="6.50" fill="#fff" font-weight="bold" text-anchor="start" textLength="4.32" lengthAdjust="spacingAndGlyphs" stroke="#fff" stroke-width="0.25">A</text>
<rect x="508.40" y="102.65" width="70.10" height="10.05" rx="3.30" fill="#f39a1d" stroke="#fff" stroke-opacity="0.55" stroke-width="0.7"/>
<text x="522.40" y="110.03" font-size="6.50" fill="#fff" font-weight="bold" text-anchor="start" textLength="4.32" lengthAdjust="spacingAndGlyphs" >A</text>
<text x="527.62" y="109.68" font-size="4.60" fill="#fff" font-weight="bold" text-anchor="start" textLength="28.88" lengthAdjust="spacingAndGlyphs" >(alle 10 Jahre)</text>
<rect x="508.40" y="118.40" width="70.10" height="10.05" rx="3.30" fill="#f39a1d" stroke="#fff" stroke-opacity="0.55" stroke-width="0.7"/>
<text x="522.40" y="125.78" font-size="6.50" fill="#fff" font-weight="bold" text-anchor="start" textLength="4.32" lengthAdjust="spacingAndGlyphs" >A</text>
<text x="527.62" y="125.43" font-size="4.60" fill="#fff" font-weight="bold" text-anchor="start" textLength="28.88" lengthAdjust="spacingAndGlyphs" >(alle 10 Jahre)</text>
<rect x="508.40" y="134.15" width="70.10" height="10.05" rx="3.30" fill="#f39a1d" stroke="#fff" stroke-opacity="0.55" stroke-width="0.7"/>
<text x="540.15" y="141.53" font-size="6.50" fill="#fff" font-weight="bold" text-anchor="start" textLength="4.32" lengthAdjust="spacingAndGlyphs" >A</text>
<text x="544.77" y="138.78" font-size="3.40" fill="#fff" font-weight="bold" text-anchor="start" textLength="1.97" lengthAdjust="spacingAndGlyphs" >d</text>
<rect x="508.30" y="165.65" width="31.00" height="10.05" rx="3.30" fill="#e8500f" />
<text x="516.90" y="172.97" font-size="6.30" fill="#fff" font-weight="bold" text-anchor="start" textLength="9.30" lengthAdjust="spacingAndGlyphs" >ggf.</text>
<text x="528.00" y="173.03" font-size="6.50" fill="#fff" font-weight="bold" text-anchor="start" textLength="4.20" lengthAdjust="spacingAndGlyphs" >N</text>
<line x1="540.80" y1="170.78" x2="577.80" y2="170.78" stroke="#e8500f" stroke-width="1.5" stroke-dasharray="0.85 0.42"/>
<path d="M575.70 168.58 l3.1 2.2 l-3.1 2.2" fill="none" stroke="#e8500f" stroke-width="1.25"/>
<rect x="148.90" y="197.15" width="30.80" height="10.05" rx="3.30" fill="#5fae45" stroke="#fff" stroke-opacity="0.55" stroke-width="0.7"/>
<text x="159.18" y="204.53" font-size="6.50" fill="#fff" font-weight="bold" text-anchor="start" textLength="7.98" lengthAdjust="spacingAndGlyphs" >G1</text>
<text x="167.45" y="201.78" font-size="3.40" fill="#fff" font-weight="bold" text-anchor="start" textLength="1.97" lengthAdjust="spacingAndGlyphs" >b</text>
<rect x="226.10" y="197.15" width="30.80" height="10.05" rx="3.30" fill="#5fae45" stroke="#fff" stroke-opacity="0.55" stroke-width="0.7"/>
<text x="237.51" y="204.53" font-size="6.50" fill="#fff" font-weight="bold" text-anchor="start" textLength="7.98" lengthAdjust="spacingAndGlyphs" stroke="#fff" stroke-width="0.25">G2</text>
<rect x="264.80" y="197.15" width="31.30" height="10.05" rx="3.30" fill="#5fae45" stroke="#fff" stroke-opacity="0.55" stroke-width="0.7"/>
<text x="276.46" y="204.53" font-size="6.50" fill="#fff" font-weight="bold" text-anchor="start" textLength="7.98" lengthAdjust="spacingAndGlyphs" stroke="#fff" stroke-width="0.25">G3</text>
<rect x="547.30" y="197.15" width="31.20" height="10.05" rx="3.30" fill="#fcb914" stroke="#fff" stroke-opacity="0.55" stroke-width="0.7"/>
<text x="560.22" y="204.53" font-size="6.50" fill="#fff" font-weight="bold" text-anchor="start" textLength="3.99" lengthAdjust="spacingAndGlyphs" >S</text>
<text x="564.51" y="201.78" font-size="3.40" fill="#fff" font-weight="bold" text-anchor="start" textLength="1.08" lengthAdjust="spacingAndGlyphs" >f</text>
<rect x="110.30" y="212.90" width="30.80" height="10.05" rx="3.30" fill="#5fae45" stroke="#fff" stroke-opacity="0.55" stroke-width="0.7"/>
<text x="120.66" y="220.28" font-size="6.50" fill="#fff" font-weight="bold" text-anchor="start" textLength="7.98" lengthAdjust="spacingAndGlyphs" >G1</text>
<text x="128.94" y="217.53" font-size="3.40" fill="#fff" font-weight="bold" text-anchor="start" textLength="1.80" lengthAdjust="spacingAndGlyphs" >a</text>
<rect x="148.90" y="212.90" width="30.80" height="10.05" rx="3.30" fill="#5fae45" stroke="#fff" stroke-opacity="0.55" stroke-width="0.7"/>
<text x="160.31" y="220.28" font-size="6.50" fill="#fff" font-weight="bold" text-anchor="start" textLength="7.98" lengthAdjust="spacingAndGlyphs" stroke="#fff" stroke-width="0.25">G2</text>
<rect x="187.50" y="212.90" width="69.40" height="10.05" rx="3.30" fill="#5fae45" stroke="#fff" stroke-opacity="0.55" stroke-width="0.7"/>
<text x="216.22" y="220.28" font-size="6.50" fill="#fff" font-weight="bold" text-anchor="start" textLength="11.96" lengthAdjust="spacingAndGlyphs" stroke="#fff" stroke-width="0.25">(G3)</text>
<rect x="264.80" y="228.65" width="69.20" height="10.05" rx="3.30" fill="#5fae45" stroke="#fff" stroke-opacity="0.55" stroke-width="0.7"/>
<text x="281.80" y="236.03" font-size="6.50" fill="#fff" font-weight="bold" text-anchor="start" textLength="4.65" lengthAdjust="spacingAndGlyphs" >G</text>
<text x="288.85" y="235.68" font-size="4.60" fill="#fff" font-weight="bold" text-anchor="start" textLength="32.85" lengthAdjust="spacingAndGlyphs" >(ab 12 Monaten)</text>
<rect x="347.60" y="228.65" width="31.00" height="10.05" rx="3.30" fill="#e8500f" stroke="#fff" stroke-opacity="0.55" stroke-width="0.7"/>
<text x="360.94" y="236.03" font-size="6.50" fill="#fff" font-weight="bold" text-anchor="start" textLength="4.32" lengthAdjust="spacingAndGlyphs" stroke="#fff" stroke-width="0.25">N</text>
<line x1="380.00" y1="233.78" x2="493.80" y2="233.78" stroke="#e8500f" stroke-width="1.5" stroke-dasharray="0.85 0.42"/>
<path d="M491.70 231.58 l3.1 2.2 l-3.1 2.2" fill="none" stroke="#e8500f" stroke-width="1.25"/>
<rect x="347.60" y="244.40" width="31.00" height="10.05" rx="3.30" fill="#e8500f" stroke="#fff" stroke-opacity="0.55" stroke-width="0.7"/>
<text x="360.94" y="251.78" font-size="6.50" fill="#fff" font-weight="bold" text-anchor="start" textLength="4.32" lengthAdjust="spacingAndGlyphs" stroke="#fff" stroke-width="0.25">N</text>
<line x1="380.00" y1="249.53" x2="493.80" y2="249.53" stroke="#e8500f" stroke-width="1.5" stroke-dasharray="0.85 0.42"/>
<path d="M491.70 247.33 l3.1 2.2 l-3.1 2.2" fill="none" stroke="#e8500f" stroke-width="1.25"/>
<rect x="347.60" y="260.15" width="31.00" height="10.05" rx="3.30" fill="#e8500f" stroke="#fff" stroke-opacity="0.55" stroke-width="0.7"/>
<text x="360.94" y="267.52" font-size="6.50" fill="#fff" font-weight="bold" text-anchor="start" textLength="4.32" lengthAdjust="spacingAndGlyphs" stroke="#fff" stroke-width="0.25">N</text>
<line x1="380.00" y1="265.27" x2="493.80" y2="265.27" stroke="#e8500f" stroke-width="1.5" stroke-dasharray="0.85 0.42"/>
<path d="M491.70 263.07 l3.1 2.2 l-3.1 2.2" fill="none" stroke="#e8500f" stroke-width="1.25"/>
<rect x="347.60" y="275.90" width="31.00" height="10.05" rx="3.30" fill="#e8500f" stroke="#fff" stroke-opacity="0.55" stroke-width="0.7"/>
<text x="360.94" y="283.27" font-size="6.50" fill="#fff" font-weight="bold" text-anchor="start" textLength="4.32" lengthAdjust="spacingAndGlyphs" stroke="#fff" stroke-width="0.25">N</text>
<line x1="380.00" y1="281.02" x2="493.80" y2="281.02" stroke="#e8500f" stroke-width="1.5" stroke-dasharray="0.85 0.42"/>
<path d="M491.70 278.82 l3.1 2.2 l-3.1 2.2" fill="none" stroke="#e8500f" stroke-width="1.25"/>
<rect x="347.60" y="291.65" width="31.00" height="10.05" rx="3.30" fill="#e8500f" stroke="#fff" stroke-opacity="0.55" stroke-width="0.7"/>
<text x="360.94" y="299.02" font-size="6.50" fill="#fff" font-weight="bold" text-anchor="start" textLength="4.32" lengthAdjust="spacingAndGlyphs" stroke="#fff" stroke-width="0.25">N</text>
<line x1="380.00" y1="296.77" x2="493.80" y2="296.77" stroke="#e8500f" stroke-width="1.5" stroke-dasharray="0.85 0.42"/>
<path d="M491.70 294.57 l3.1 2.2 l-3.1 2.2" fill="none" stroke="#e8500f" stroke-width="1.25"/>
<rect x="508.40" y="244.40" width="31.00" height="10.05" rx="3.30" fill="#fcb914" stroke="#fff" stroke-opacity="0.55" stroke-width="0.7"/>
<text x="520.86" y="251.78" font-size="6.50" fill="#fff" font-weight="bold" text-anchor="start" textLength="3.99" lengthAdjust="spacingAndGlyphs" >S</text>
<text x="525.15" y="249.03" font-size="3.40" fill="#fff" font-weight="bold" text-anchor="start" textLength="1.80" lengthAdjust="spacingAndGlyphs" >e</text>
<rect x="264.80" y="244.40" width="31.30" height="41.55" rx="3.50" fill="#5fae45" stroke="#fff" stroke-opacity="0.55" stroke-width="0.7"/>
<text x="276.46" y="253.35" font-size="6.50" fill="#fff" font-weight="bold" text-anchor="start" textLength="7.98" lengthAdjust="spacingAndGlyphs" stroke="#fff" stroke-width="0.25">G1</text>
<text transform="translate(276.30 282.50) rotate(-90)" font-size="5.80" fill="#fff" font-weight="bold" textLength="19.30" lengthAdjust="spacingAndGlyphs">3-fach-</text>
<text transform="translate(283.00 282.50) rotate(-90)" font-size="5.80" fill="#fff" font-weight="bold" textLength="22.70" lengthAdjust="spacingAndGlyphs">Impfung</text>
<text transform="translate(289.40 282.50) rotate(-90)" font-size="5.60" fill="#fff" font-weight="bold" textLength="13.20" lengthAdjust="spacingAndGlyphs">MMR</text>
<rect x="264.80" y="291.65" width="31.30" height="10.05" rx="3.30" fill="#5fae45" stroke="#fff" stroke-opacity="0.55" stroke-width="0.7"/>
<text x="276.46" y="299.02" font-size="6.50" fill="#fff" font-weight="bold" text-anchor="start" textLength="7.98" lengthAdjust="spacingAndGlyphs" stroke="#fff" stroke-width="0.25">G1</text>
<rect x="303.00" y="244.40" width="31.00" height="57.30" rx="3.50" fill="#5fae45" stroke="#fff" stroke-opacity="0.55" stroke-width="0.7"/>
<text x="314.51" y="253.35" font-size="6.50" fill="#fff" font-weight="bold" text-anchor="start" textLength="7.98" lengthAdjust="spacingAndGlyphs" stroke="#fff" stroke-width="0.25">G2</text>
<text x="314.51" y="299.25" font-size="6.50" fill="#fff" font-weight="bold" text-anchor="start" textLength="7.98" lengthAdjust="spacingAndGlyphs" stroke="#fff" stroke-width="0.25">G2</text>
<text transform="translate(311.60 282.50) rotate(-90)" font-size="5.80" fill="#fff" font-weight="bold" textLength="19.30" lengthAdjust="spacingAndGlyphs">3-fach-</text>
<text transform="translate(318.20 282.50) rotate(-90)" font-size="5.80" fill="#fff" font-weight="bold" textLength="22.70" lengthAdjust="spacingAndGlyphs">Impfung</text>
<text transform="translate(324.40 282.50) rotate(-90)" font-size="5.60" fill="#fff" font-weight="bold" textLength="13.20" lengthAdjust="spacingAndGlyphs">MMR</text>
<text transform="translate(330.70 282.50) rotate(-90)" font-size="3.60" fill="#fff" font-weight="bold" textLength="27.00" lengthAdjust="spacingAndGlyphs">+ Windpocken</text>
<line x1="303.40" y1="288.6" x2="334.20" y2="288.6" stroke="#fff" stroke-width="0.7" stroke-dasharray="0.8 0.7"/>
<rect x="424.75" y="307.60" width="31.75" height="10.05" rx="3.30" fill="#5fae45" />
<circle cx="430.00" cy="312.52" r="3.10" fill="#fff"/>
<ellipse cx="430.00" cy="311.38" rx="1.75" ry="1.1" fill="#1a1a1a"/>
<rect x="429.10" y="311.92" width="1.8" height="2.7" rx="0.5" fill="#1a1a1a"/>
<text x="434.90" y="314.93" font-size="6.30" fill="#fff" font-weight="bold" text-anchor="start" textLength="18.70" lengthAdjust="spacingAndGlyphs" stroke="#fff" stroke-width="0.25">G1+G2</text>
<text x="453.90" y="312.02" font-size="3.20" fill="#fff" font-weight="bold" text-anchor="start" textLength="1.70" lengthAdjust="spacingAndGlyphs" >c</text>
<rect x="463.00" y="307.60" width="31.00" height="10.05" rx="3.30" fill="#e8500f" />
<circle cx="475.20" cy="312.52" r="3.10" fill="#fff"/>
<ellipse cx="475.20" cy="311.38" rx="1.75" ry="1.1" fill="#1a1a1a"/>
<rect x="474.30" y="311.92" width="1.8" height="2.7" rx="0.5" fill="#1a1a1a"/>
<text x="480.00" y="314.93" font-size="6.30" fill="#fff" font-weight="bold" text-anchor="start" textLength="4.20" lengthAdjust="spacingAndGlyphs" stroke="#fff" stroke-width="0.25">N</text>
<text x="484.50" y="312.02" font-size="3.20" fill="#fff" font-weight="bold" text-anchor="start" textLength="1.70" lengthAdjust="spacingAndGlyphs" >c</text>
<rect x="264.75" y="323.35" width="274.00" height="10.05" rx="3.30" fill="#6f6f6f" />
<text x="294.30" y="330.68" font-size="6.60" fill="#fff" font-weight="normal" text-anchor="start" textLength="203.95" lengthAdjust="spacingAndGlyphs" >Personen mit chronischen Erkrankungen (jährlich) und für Schwangere</text>
<rect x="547.30" y="323.15" width="31.20" height="10.05" rx="3.30" fill="#fcb914" stroke="#fff" stroke-opacity="0.55" stroke-width="0.7"/>
<text x="551.70" y="330.52" font-size="6.50" fill="#fff" font-weight="bold" text-anchor="start" textLength="3.99" lengthAdjust="spacingAndGlyphs" >S</text>
<text x="556.99" y="330.17" font-size="4.60" fill="#fff" font-weight="bold" text-anchor="start" textLength="18.31" lengthAdjust="spacingAndGlyphs" >(jährlich)</text>
<rect x="0.00" y="340.30" width="600.00" height="60.30" rx="0.00" fill="#d9ecd1" />
<path d="M21.4 347.4 h5.1 l1.8 1.8 v8.8 h-6.9 z" fill="#fff"/>
<text x="24.85" y="355.40" font-size="5.50" fill="#222" font-weight="bold" text-anchor="middle" >U</text>
<rect x="18.70" y="360.95" width="11.90" height="7.70" rx="2.00" fill="#5fae45" />
<text x="24.65" y="367.10" font-size="6.40" fill="#fff" font-weight="bold" text-anchor="middle" >G</text>
<rect x="18.70" y="372.35" width="11.90" height="7.70" rx="2.00" fill="#fcb914" />
<text x="24.65" y="378.50" font-size="6.40" fill="#fff" font-weight="bold" text-anchor="middle" >S</text>
<rect x="18.70" y="383.65" width="11.90" height="7.70" rx="2.00" fill="#5fae45" />
<circle cx="24.65" cy="387.50" r="3.00" fill="#fff"/>
<ellipse cx="24.65" cy="386.35" rx="1.75" ry="1.1" fill="#1a1a1a"/>
<rect x="23.75" y="386.90" width="1.8" height="2.7" rx="0.5" fill="#1a1a1a"/>
<text x="33.90" y="355.10" font-size="5.60" fill="#111" font-weight="bold" text-anchor="start" textLength="25.35" lengthAdjust="spacingAndGlyphs" >Impftermin</text>
<text x="62.00" y="355.10" font-size="5.60" fill="#111" font-weight="bold" text-anchor="start" textLength="7.00" lengthAdjust="spacingAndGlyphs" >bei</text>
<text x="71.80" y="355.10" font-size="5.60" fill="#111" font-weight="bold" text-anchor="start" textLength="64.40" lengthAdjust="spacingAndGlyphs" >Früherkennungsuntersuchung</text>
<text x="139.40" y="355.10" font-size="5.60" fill="#111" font-weight="bold" text-anchor="start" textLength="14.60" lengthAdjust="spacingAndGlyphs" >Kinder</text>
<text x="33.90" y="366.40" font-size="5.60" fill="#111" font-weight="bold" text-anchor="start" textLength="48.50" lengthAdjust="spacingAndGlyphs" >Grundimmunisierung</text>
<text x="84.60" y="366.20" font-size="4.50" fill="#111" font-weight="bold" text-anchor="start" textLength="63.50" lengthAdjust="spacingAndGlyphs" >(bis zu vier Teilimpfungen G1–G4)</text>
<text x="33.90" y="377.80" font-size="5.60" fill="#111" font-weight="bold" text-anchor="start" textLength="39.40" lengthAdjust="spacingAndGlyphs" >Standardimpfung</text>
<text x="33.90" y="389.30" font-size="5.60" fill="#111" font-weight="bold" text-anchor="start" textLength="40.50" lengthAdjust="spacingAndGlyphs" >Impfempfehlungen</text>
<text x="77.20" y="389.30" font-size="5.60" fill="#111" font-weight="bold" text-anchor="start" textLength="6.50" lengthAdjust="spacingAndGlyphs" >für</text>
<text x="86.80" y="389.30" font-size="5.60" fill="#111" font-weight="bold" text-anchor="start" textLength="19.50" lengthAdjust="spacingAndGlyphs" >Mädchen</text>
<text x="109.10" y="389.30" font-size="5.60" fill="#111" font-weight="bold" text-anchor="start" textLength="8.70" lengthAdjust="spacingAndGlyphs" >und</text>
<text x="120.60" y="389.30" font-size="5.60" fill="#111" font-weight="bold" text-anchor="start" textLength="11.20" lengthAdjust="spacingAndGlyphs" >junge</text>
<text x="135.10" y="389.30" font-size="5.60" fill="#111" font-weight="bold" text-anchor="start" textLength="13.60" lengthAdjust="spacingAndGlyphs" >Frauen</text>
<path d="M168.4 347.4 h5.1 l1.8 1.8 v8.8 h-6.9 z" fill="#fff"/>
<text x="171.85" y="355.40" font-size="5.50" fill="#222" font-weight="bold" text-anchor="middle" >J</text>
<rect x="166.80" y="360.95" width="11.90" height="7.70" rx="2.00" fill="#e8500f" />
<text x="172.75" y="367.10" font-size="6.40" fill="#fff" font-weight="bold" text-anchor="middle" >N</text>
<rect x="166.80" y="372.35" width="11.90" height="7.70" rx="2.00" fill="#f39a1d" />
<text x="172.75" y="378.50" font-size="6.40" fill="#fff" font-weight="bold" text-anchor="middle" >A</text>
<text x="182.70" y="355.10" font-size="5.60" fill="#111" font-weight="bold" text-anchor="start" textLength="25.20" lengthAdjust="spacingAndGlyphs" >Impftermin</text>
<text x="210.70" y="355.10" font-size="5.60" fill="#111" font-weight="bold" text-anchor="start" textLength="6.50" lengthAdjust="spacingAndGlyphs" >bei</text>
<text x="220.00" y="355.10" font-size="5.60" fill="#111" font-weight="bold" text-anchor="start" textLength="64.90" lengthAdjust="spacingAndGlyphs" >Früherkennungsuntersuchung</text>
<text x="287.70" y="355.10" font-size="5.60" fill="#111" font-weight="bold" text-anchor="start" textLength="26.10" lengthAdjust="spacingAndGlyphs" >Jugendliche</text>
<text x="182.70" y="366.40" font-size="5.60" fill="#111" font-weight="bold" text-anchor="start" textLength="32.60" lengthAdjust="spacingAndGlyphs" >Nachholimpfung</text>
<text x="218.10" y="366.40" font-size="5.60" fill="#222" font-weight="normal" text-anchor="start" textLength="6.10" lengthAdjust="spacingAndGlyphs" >(bei</text>
<text x="226.50" y="366.40" font-size="5.60" fill="#222" font-weight="normal" text-anchor="start" textLength="35.50" lengthAdjust="spacingAndGlyphs" >unvollständigem</text>
<text x="264.80" y="366.40" font-size="5.60" fill="#222" font-weight="normal" text-anchor="start" textLength="25.70" lengthAdjust="spacingAndGlyphs" >Impfschutz)</text>
<text x="182.70" y="377.80" font-size="5.60" fill="#111" font-weight="bold" text-anchor="start" textLength="39.60" lengthAdjust="spacingAndGlyphs" >Auffrischimpfung</text>
<text x="323.60" y="353.00" font-size="3.80" fill="#111" font-weight="bold" text-anchor="start" >a</text>
<text x="329.10" y="353.30" font-size="4.70" fill="#111" font-weight="bold" text-anchor="start" textLength="134.90" lengthAdjust="spacingAndGlyphs" >die 1. Impfung möglichst ab vollendeter 6. Lebenswoche, je nach</text>
<text x="329.10" y="358.67" font-size="4.70" fill="#111" font-weight="bold" text-anchor="start" textLength="136.80" lengthAdjust="spacingAndGlyphs" >Impfstoff 2 bzw. 3 Schluckimpfungen (G2/G3) mit einem Mindest-</text>
<text x="329.10" y="364.04" font-size="4.70" fill="#111" font-weight="bold" text-anchor="start" textLength="45.90" lengthAdjust="spacingAndGlyphs" >abstand von 4 Wochen</text>
<text x="323.60" y="369.11" font-size="3.80" fill="#111" font-weight="bold" text-anchor="start" >b</text>
<text x="329.10" y="369.41" font-size="4.70" fill="#111" font-weight="bold" text-anchor="start" textLength="131.20" lengthAdjust="spacingAndGlyphs" >Frühgeborene erhalten eine zusätzliche Impfung im Alter von 3</text>
<text x="329.10" y="374.78" font-size="4.70" fill="#111" font-weight="bold" text-anchor="start" textLength="70.90" lengthAdjust="spacingAndGlyphs" >Monaten (insgesamt 4 Impfungen)</text>
<text x="323.60" y="379.85" font-size="3.80" fill="#111" font-weight="bold" text-anchor="start" >c</text>
<text x="329.10" y="380.15" font-size="4.70" fill="#111" font-weight="bold" text-anchor="start" textLength="123.90" lengthAdjust="spacingAndGlyphs" >je nach Impfstoff 2 Impfungen im Alter von 9–13 bzw. 9–14</text>
<text x="329.10" y="385.52" font-size="4.70" fill="#111" font-weight="bold" text-anchor="start" textLength="132.30" lengthAdjust="spacingAndGlyphs" >Jahren, bei Nachholen der Impfung beginnend im Alter &gt;13 bzw.</text>
<text x="329.10" y="390.89" font-size="4.70" fill="#111" font-weight="bold" text-anchor="start" textLength="47.60" lengthAdjust="spacingAndGlyphs" >14 Jahren 3 Impfungen</text>
<text x="469.60" y="353.00" font-size="3.80" fill="#111" font-weight="bold" text-anchor="start" >d</text>
<text x="474.60" y="353.30" font-size="4.70" fill="#111" font-weight="bold" text-anchor="start" textLength="107.00" lengthAdjust="spacingAndGlyphs" >einmalige Auffrischung; möglichst mit der nächsten</text>
<text x="474.60" y="358.67" font-size="4.70" fill="#111" font-weight="bold" text-anchor="start" textLength="110.40" lengthAdjust="spacingAndGlyphs" >Impfung gegen Tetanus/Diphtherie/ggf. Poliomyelitis</text>
<text x="469.60" y="363.74" font-size="3.80" fill="#111" font-weight="bold" text-anchor="start" >e</text>
<text x="474.60" y="364.04" font-size="4.70" fill="#111" font-weight="bold" text-anchor="start" textLength="106.70" lengthAdjust="spacingAndGlyphs" >Impfung für alle nach 1970 Geborene mit unklarem</text>
<text x="474.60" y="369.41" font-size="4.70" fill="#111" font-weight="bold" text-anchor="start" textLength="28.10" lengthAdjust="spacingAndGlyphs" >Immunschutz</text>
<text x="469.60" y="374.48" font-size="3.80" fill="#111" font-weight="bold" text-anchor="start" >f</text>
<text x="474.60" y="374.78" font-size="4.70" fill="#111" font-weight="bold" text-anchor="start" textLength="105.00" lengthAdjust="spacingAndGlyphs" >Impfung mit sogenanntem Polysaccharid-Impfstoff</text>
<rect x="18.30" y="403.30" width="21.30" height="16.70" rx="0.00" fill="#a9a9a9" />
<text x="19.50" y="419.10" font-size="7.80" fill="#fff" font-weight="bold" text-anchor="start" textLength="19.30" lengthAdjust="spacingAndGlyphs" >BZgA</text>
<text x="42.70" y="406.40" font-size="3.70" fill="#111" font-weight="bold" text-anchor="start" textLength="23.42" lengthAdjust="spacingAndGlyphs" >Bundeszentrale</text>
<text x="42.70" y="410.53" font-size="3.70" fill="#111" font-weight="bold" text-anchor="start" textLength="4.19" lengthAdjust="spacingAndGlyphs" >für</text>
<text x="42.70" y="414.66" font-size="3.70" fill="#111" font-weight="bold" text-anchor="start" textLength="23.94" lengthAdjust="spacingAndGlyphs" >gesundheitliche</text>
<text x="42.70" y="418.79" font-size="3.70" fill="#111" font-weight="bold" text-anchor="start" textLength="16.60" lengthAdjust="spacingAndGlyphs" >Aufklärung</text>
<text x="233.60" y="412.90" font-size="6.20" fill="#111" font-weight="bold" text-anchor="start" textLength="34.00" lengthAdjust="spacingAndGlyphs" >Verlässliche,</text>
<text x="270.00" y="412.90" font-size="6.20" fill="#111" font-weight="bold" text-anchor="start" textLength="37.00" lengthAdjust="spacingAndGlyphs" >verständliche</text>
<text x="309.60" y="412.90" font-size="6.20" fill="#111" font-weight="bold" text-anchor="start" textLength="9.40" lengthAdjust="spacingAndGlyphs" >und</text>
<text x="321.60" y="412.90" font-size="6.20" fill="#111" font-weight="bold" text-anchor="start" textLength="49.00" lengthAdjust="spacingAndGlyphs" >nichtkommerzielle</text>
<text x="373.80" y="412.90" font-size="6.20" fill="#111" font-weight="bold" text-anchor="start" textLength="38.40" lengthAdjust="spacingAndGlyphs" >Informationen</text>
<text x="415.40" y="412.90" font-size="6.20" fill="#111" font-weight="bold" text-anchor="start" textLength="9.80" lengthAdjust="spacingAndGlyphs" >zum</text>
<text x="428.40" y="412.90" font-size="6.20" fill="#111" font-weight="bold" text-anchor="start" textLength="16.70" lengthAdjust="spacingAndGlyphs" >Thema</text>
<text x="448.60" y="412.90" font-size="6.20" fill="#111" font-weight="bold" text-anchor="start" textLength="19.20" lengthAdjust="spacingAndGlyphs" >Impfen:</text>
<text x="481.00" y="413.40" font-size="12.00" fill="#4da632" font-weight="bold" text-anchor="start" textLength="100.50" lengthAdjust="spacingAndGlyphs" >www.impfen-info.de</text>
<path d="M491.40 33.10 L502.02 29.24 L496.18 22.86 z" fill="#d2ebca"/>
<path d="M491.40 33.10 L496.18 22.86 L487.54 22.48 z" fill="#9cd38e"/>
<path d="M491.40 33.10 L487.54 22.48 L481.16 28.32 z" fill="#5fb84d"/>
<path d="M491.40 33.10 L481.16 28.32 L480.78 36.96 z" fill="#43a62f"/>
<path d="M491.40 33.10 L480.78 36.96 L486.62 43.34 z" fill="#4dad3a"/>
<path d="M491.40 33.10 L486.62 43.34 L495.26 43.72 z" fill="#7bc46a"/>
<path d="M491.40 33.10 L495.26 43.72 L501.64 37.88 z" fill="#b8dfad"/>
<path d="M491.40 33.10 L501.64 37.88 L502.02 29.24 z" fill="#e4f3df"/>
<line x1="491.40" y1="33.10" x2="502.02" y2="29.24" stroke="#fff" stroke-width="0.75"/>
<line x1="491.40" y1="33.10" x2="496.18" y2="22.86" stroke="#fff" stroke-width="0.75"/>
<line x1="491.40" y1="33.10" x2="487.54" y2="22.48" stroke="#fff" stroke-width="0.75"/>
<line x1="491.40" y1="33.10" x2="481.16" y2="28.32" stroke="#fff" stroke-width="0.75"/>
<line x1="491.40" y1="33.10" x2="480.78" y2="36.96" stroke="#fff" stroke-width="0.75"/>
<line x1="491.40" y1="33.10" x2="486.62" y2="43.34" stroke="#fff" stroke-width="0.75"/>
<line x1="491.40" y1="33.10" x2="495.26" y2="43.72" stroke="#fff" stroke-width="0.75"/>
<line x1="491.40" y1="33.10" x2="501.64" y2="37.88" stroke="#fff" stroke-width="0.75"/>
<text x="508.25" y="32.7" font-family="Liberation Serif, serif" font-weight="bold" font-size="12.6" fill="#111" textLength="37.50" lengthAdjust="spacingAndGlyphs">impfen</text>
<text x="546.80" y="32.7" font-family="Liberation Serif, serif" font-weight="bold" font-size="12.6" fill="#4fa63a" textLength="20.70" lengthAdjust="spacingAndGlyphs">-info</text>
<text x="568.25" y="32.7" font-family="Liberation Serif, serif" font-weight="bold" font-size="12.6" fill="#111" textLength="13.50" lengthAdjust="spacingAndGlyphs">.de</text>
<text x="507.80" y="42.10" font-size="6.70" fill="#666" font-weight="normal" text-anchor="start" textLength="20.70" lengthAdjust="spacingAndGlyphs" >Wissen,</text>
<text x="530.00" y="42.10" font-size="6.70" fill="#666" font-weight="normal" text-anchor="start" textLength="9.30" lengthAdjust="spacingAndGlyphs" >was</text>
<text x="541.25" y="42.10" font-size="6.70" fill="#666" font-weight="normal" text-anchor="start" textLength="21.00" lengthAdjust="spacingAndGlyphs" >schützt.</text>
<path d="M527.8 45.8 Q540 43.8 566 43.4" fill="none" stroke="#74c05e" stroke-width="0.9" stroke-linecap="round"/>
</svg>
</body></html>
